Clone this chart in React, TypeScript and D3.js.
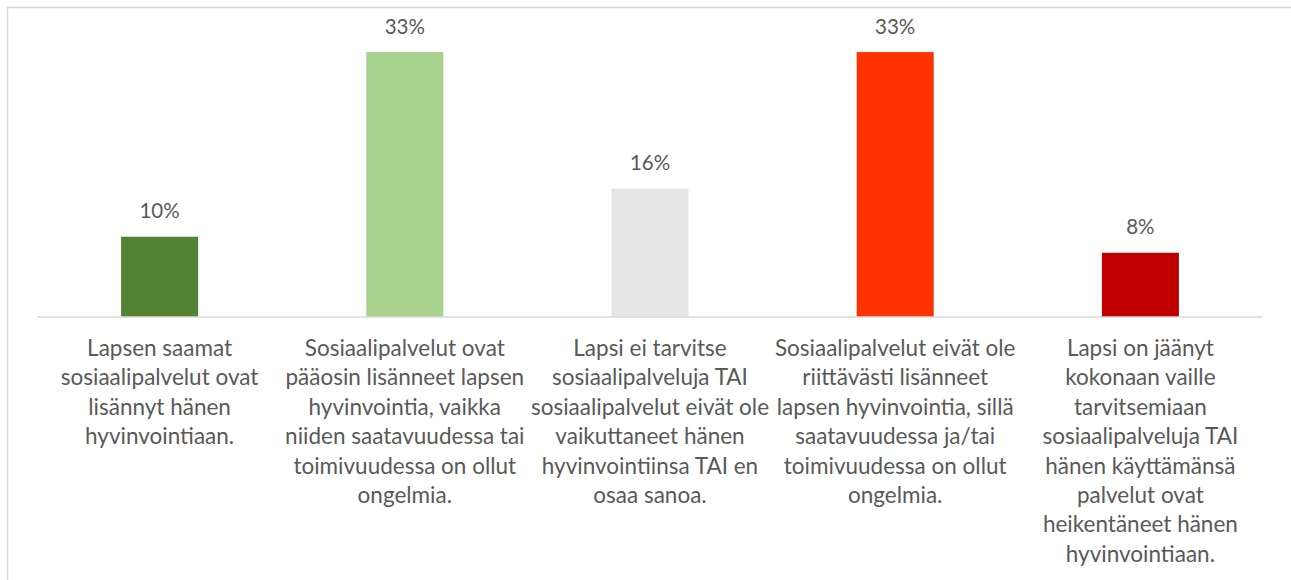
import React, { useEffect, useRef } from 'react';
import * as d3 from 'd3';

const W = 1291;
const H = 580;

const categories = [
  ['Lapsen saamat', 'sosiaalipalvelut ovat', 'lisännyt hänen', 'hyvinvointiaan.'],
  ['Sosiaalipalvelut ovat', 'pääosin lisänneet lapsen', 'hyvinvointia, vaikka', 'niiden saatavuudessa tai', 'toimivuudessa on ollut', 'ongelmia.'],
  ['Lapsi ei tarvitse', 'sosiaalipalveluja TAI', 'sosiaalipalvelut eivät ole', 'vaikuttaneet hänen', 'hyvinvointiinsa TAI en', 'osaa sanoa.'],
  ['Sosiaalipalvelut eivät ole', 'riittävästi lisänneet', 'lapsen hyvinvointia, sillä', 'saatavuudessa ja/tai', 'toimivuudessa on ollut', 'ongelmia.'],
  ['Lapsi on jäänyt', 'kokonaan vaille', 'tarvitsemiaan', 'sosiaalipalveluja TAI', 'hänen käyttämänsä', 'palvelut ovat', 'heikentäneet hänen', 'hyvinvointiaan.'],
];
const values = [0.10, 0.33, 0.16, 0.33, 0.08];
const colors = ['#548235', '#a9d18e', '#e6e6e6', '#ff3300', '#c00000'];

const FONT = 'Lato, "Open Sans", sans-serif';

const App = () => {
  const svgRef = useRef<SVGSVGElement>(null);

  useEffect(() => {
    const svg = d3.select(svgRef.current);
    svg.selectAll('*').remove();

    const margin = { left: 37, right: 28, top: 36 };
    const baseY = 317;

    const x = d3.scaleBand<number>()
      .domain(d3.range(values.length))
      .range([margin.left, W - margin.right])
      .paddingInner(0.686)
      .paddingOuter(0.343);

    const y = d3.scaleLinear().domain([0, 0.35]).range([baseY, margin.top]);

    // chart frame (runs off the right and bottom edges)
    svg.append('rect')
      .attr('x', 7.5).attr('y', 7.5)
      .attr('width', W + 20).attr('height', H + 20)
      .attr('fill', '#fff')
      .attr('stroke', '#d9d9d9')
      .attr('stroke-width', 1.5);

    svg.append('g')
      .selectAll('rect')
      .data(values)
      .join('rect')
      .attr('x', (d, i) => x(i)!)
      .attr('y', d => y(d))
      .attr('width', x.bandwidth())
      .attr('height', d => baseY - y(d))
      .attr('fill', (d, i) => colors[i]);

    svg.append('line')
      .attr('x1', margin.left).attr('x2', W - margin.right)
      .attr('y1', baseY).attr('y2', baseY)
      .attr('stroke', '#d9d9d9')
      .attr('stroke-width', 1.5);

    svg.append('g')
      .selectAll('text')
      .data(values)
      .join('text')
      .attr('x', (d, i) => x(i)! + x.bandwidth() / 2)
      .attr('y', d => y(d) - 18.5)
      .attr('text-anchor', 'middle')
      .attr('fill', '#595959')
      .style('font-family', FONT)
      .style('font-size', '20.5px')
      .text(d => d3.format('.0%')(d));

    const labels = svg.append('g')
      .selectAll('text')
      .data(categories)
      .join('text')
      .attr('text-anchor', 'middle')
      .attr('fill', '#595959')
      .style('font-family', FONT)
      .style('font-size', '22.5px');

    labels.each(function (lines, i) {
      const cx = x(i)! + x.bandwidth() / 2;
      d3.select(this)
        .selectAll('tspan')
        .data(lines)
        .join('tspan')
        .attr('x', cx)
        .attr('y', (d, j) => 356 + j * 29.4)
        .text(d => d);
    });
  }, []);

  return (
    <svg
      ref={svgRef}
      width={W}
      height={H}
      style={{ position: 'fixed', left: 0, top: 0, background: '#fff' }}
    />
  );
};

export default App;
